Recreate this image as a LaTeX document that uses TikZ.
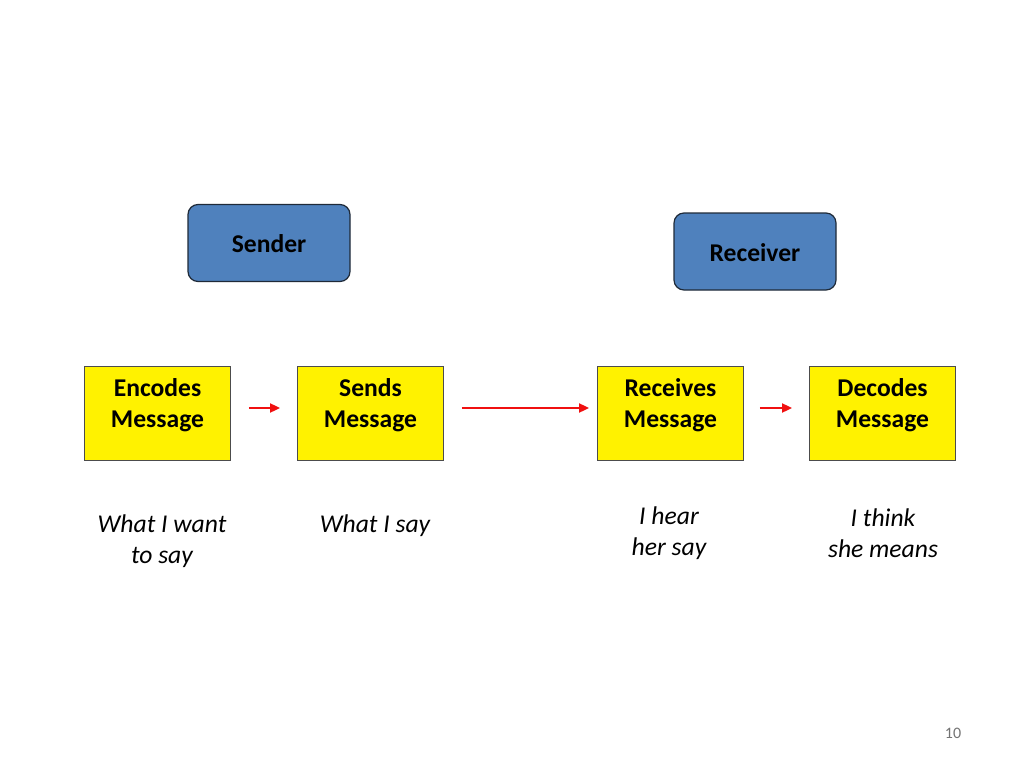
\documentclass[tikz,border=0pt]{standalone}
\usepackage{fontspec}
\setmainfont{Carlito}
\usetikzlibrary{arrows.meta}
\definecolor{boxblue}{HTML}{4F81BD}
\definecolor{boxborder}{HTML}{1F2A38}
\definecolor{arrred}{HTML}{F01010}
\begin{document}
\begin{tikzpicture}[x=1pt,y=-1pt,
  role/.style={draw=boxborder,line width=1.2pt,fill=boxblue,rounded corners=10pt,minimum width=162pt,minimum height=77pt,inner sep=0pt},
  stage/.style={draw=black!70,line width=0.8pt,fill=yellow,minimum width=146pt,minimum height=94pt,inner sep=0pt},
  lbl/.style={font=\fontsize{25.6}{31}\selectfont\bfseries,align=center,inner sep=0pt},
  note/.style={font=\fontsize{25.6}{31}\selectfont\itshape,align=center,inner sep=0pt},
  flow/.style={draw=arrred,line width=1.8pt,-{Triangle[length=10pt,width=9pt]}}]
\useasboundingbox (0,0) rectangle (1024,768);
\fill[white] (0,0) rectangle (1024,768);
\node[role] (sender) at (269,243) {};
\node[lbl] (sendert) at (269,244) {Sender};
\node[role] (receiver) at (755,251.5) {};
\node[lbl] (receivert) at (755,253) {Receiver};
\node[stage] (enc) at (157.5,413) {};
\node[stage] (snd) at (370.5,413) {};
\node[stage] (rcv) at (670.5,413) {};
\node[stage] (dec) at (882.5,413) {};
\node[lbl] (enct) at (157.5,405.5) {Encodes\\Message};
\node[lbl] (sndt) at (370.5,405.5) {Sends\\Message};
\node[lbl] (rcvt) at (670.5,405.5) {Receives\\Message};
\node[lbl] (dect) at (882.5,405.5) {Decodes\\Message};
\draw[flow,shorten <=18pt,shorten >=17pt] (enc.east |- 0,408) coordinate (a1) -- (snd.west |- 0,408) coordinate (a2);
\draw[flow,shorten <=18pt,shorten >=8pt] (snd.east |- 0,408) coordinate (b1) -- (rcv.west |- 0,408) coordinate (b2);
\draw[flow,shorten <=16pt,shorten >=17pt] (rcv.east |- 0,408) coordinate (c1) -- (dec.west |- 0,408) coordinate (c2);
\node[note] (n1) at (162,541.5) {What I want\\to say};
\node[note] (n2) at (375,526) {What I say};
\node[note] (n3) at (669,533) {I hear\\her say};
\node[note] (n4) at (883,533) {I think\\she means};
\node[font=\fontsize{16}{19}\selectfont,text=black!55,inner sep=0pt] (pg) at (953,733.5) {10};
\end{tikzpicture}
\end{document}
